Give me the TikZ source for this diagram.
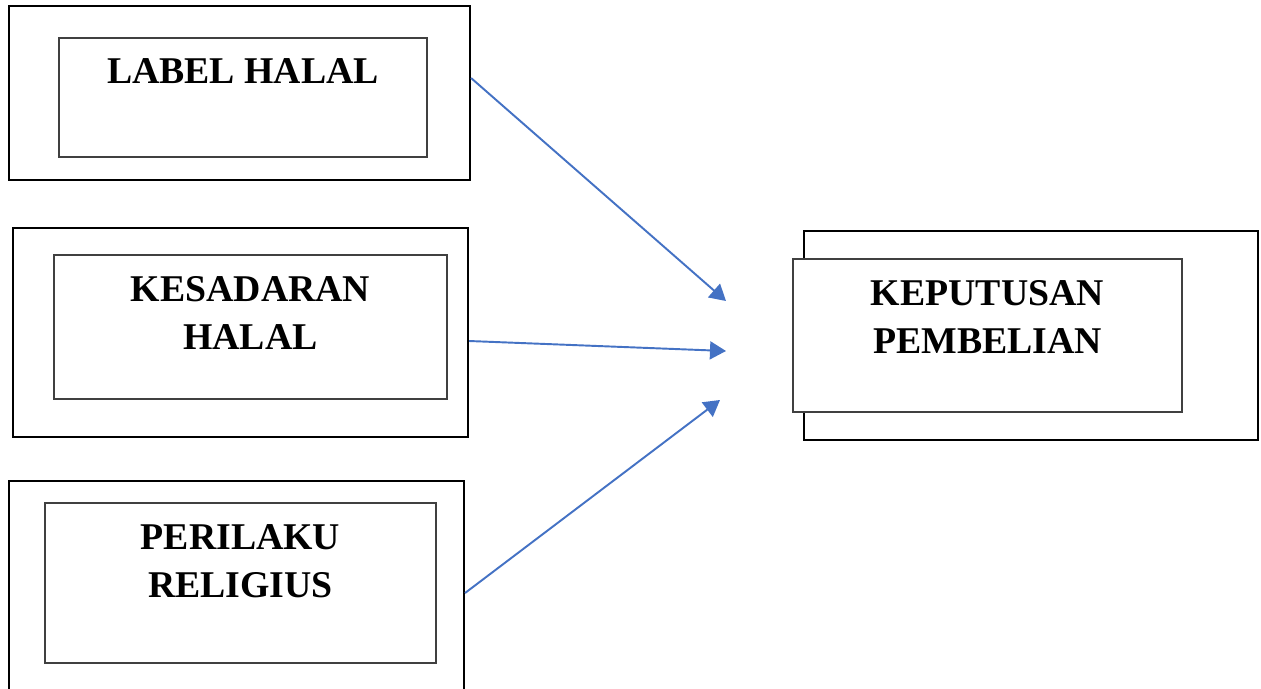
\documentclass[tikz,border=0pt]{standalone}
\usepackage{fontspec}
\setmainfont{Liberation Serif}
\usetikzlibrary{arrows.meta}
\definecolor{ink}{HTML}{000000}
\definecolor{edge}{HTML}{404040}
\definecolor{flow}{HTML}{4472C4}

\tikzset{
  outerbox/.style={draw=ink, line width=1.2pt, inner sep=0},
  innerbox/.style={draw=edge, fill=white, line width=0.6pt, inner sep=0},
  boxtext/.style={font=\fontsize{21.5}{27.5}\selectfont\bfseries, color=ink,
    align=center, inner sep=0},
  flowline/.style={draw=flow, line width=1.1pt,
    -{Triangle[length=0.32cm, width=0.36cm]}}
}

\begin{document}
\begin{tikzpicture}

\useasboundingbox (0,0) rectangle (25.22cm,-13.76cm);
\clip (0,0) rectangle (25.22cm,-13.76cm);

% left column: the three factors
\node[outerbox, minimum width=9.22cm, minimum height=3.48cm]
  (labelout) at (4.79cm,-1.86cm) {};
\node[innerbox, minimum width=7.36cm, minimum height=2.38cm]
  (labelin) at (4.86cm,-1.95cm) {};
\node[boxtext] (labeltxt) at (4.86cm,-1.42cm) {LABEL HALAL};

\node[outerbox, minimum width=9.10cm, minimum height=4.18cm]
  (sadarout) at (4.81cm,-6.65cm) {};
\node[innerbox, minimum width=7.86cm, minimum height=2.88cm]
  (sadarin) at (5.01cm,-6.54cm) {};
\node[boxtext] (sadartxt) at (5.01cm,-6.26cm) {KESADARAN\\HALAL};

\node[outerbox, minimum width=9.10cm, minimum height=4.38cm]
  (religiout) at (4.73cm,-11.81cm) {};
\node[innerbox, minimum width=7.82cm, minimum height=3.20cm]
  (religiin) at (4.81cm,-11.66cm) {};
\node[boxtext] (religitxt) at (4.81cm,-11.22cm) {PERILAKU\\RELIGIUS};

% right: the outcome
\node[outerbox, minimum width=9.08cm, minimum height=4.18cm]
  (putusout) at (20.62cm,-6.71cm) {};
\node[innerbox, minimum width=7.78cm, minimum height=3.06cm]
  (putusin) at (19.75cm,-6.71cm) {};
\node[boxtext] (putustxt) at (19.75cm,-6.34cm) {KEPUTUSAN\\PEMBELIAN};

\coordinate (tipa) at (14.52cm,-6.02cm);
\coordinate (tipb) at (14.52cm,-7.02cm);
\coordinate (tipc) at (14.40cm,-8.00cm);

\draw[flowline] ([yshift=0.30cm]labelout.east) -- (tipa);
\draw[flowline] ([yshift=-0.17cm]sadarout.east) -- (tipb);
\draw[flowline] ([yshift=-0.05cm]religiout.east) -- (tipc);

\end{tikzpicture}
\end{document}
